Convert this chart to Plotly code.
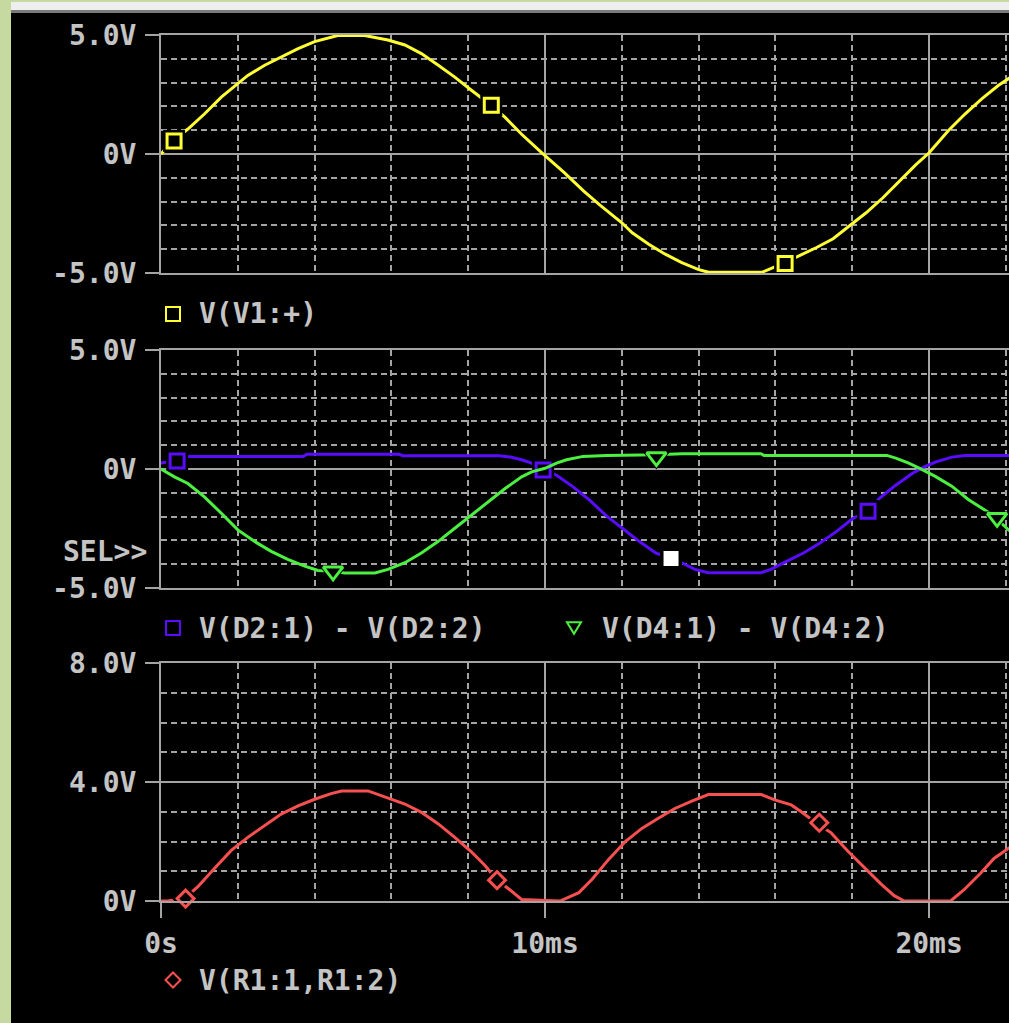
import plotly.graph_objects as go

# ---------------- data ----------------
# Plot 1 : V(V1:+)
t_v1 = [0, 0.32, 0.7, 1.13, 1.57, 2.0, 2.26, 2.7, 3.13, 3.57, 4.0, 4.6, 5.3, 5.91, 6.35,
        6.78, 7.22, 7.65, 8.09, 8.61, 8.96, 9.39, 9.91, 10.5, 11.0, 11.43, 12.0, 12.27, 12.7, 13.13,
        13.56, 14.0, 14.26, 15.65, 16.24, 16.63, 17.07, 17.5, 17.93, 18.36, 18.79, 19.22, 19.65, 20.0,
        20.51, 20.94, 21.37, 21.8, 22.1]
v_v1 = [0, 0.58, 1.05, 1.68, 2.39, 2.95, 3.3, 3.73, 4.08, 4.43, 4.72, 4.98, 4.98, 4.79, 4.58,
        4.22, 3.73, 3.23, 2.67, 2.03, 1.54, 0.83, 0.06, -0.78, -1.55, -2.15, -2.89, -3.31, -3.79, -4.21,
        -4.56, -4.86, -4.97, -4.97, -4.56, -4.28, -3.93, -3.56, -3.03, -2.47, -1.85, -1.15, -0.46, 0.05,
        1.0, 1.69, 2.32, 2.88, 3.2]
mt_v1 = [0.34, 8.6, 16.25]
mv_v1 = [0.55, 2.05, -4.6]

# Plot 2 : V(D2:1) - V(D2:2)
t_d2 = [0, 0.42, 0.62, 3.7, 3.8, 6.2, 6.3, 8.8, 9.1, 9.39, 9.65, 10.0, 10.3, 10.73, 11.16,
        11.59, 12.02, 12.45, 12.88, 13.28, 13.56, 13.9, 14.25, 15.62, 15.88, 16.3, 16.73, 17.16, 17.59,
        18.02, 18.41, 18.7, 19.13, 19.56, 19.86, 20.16, 20.59, 20.94, 22.1]
v_d2 = [0.25, 0.36, 0.53, 0.53, 0.62, 0.62, 0.56, 0.56, 0.5, 0.39, 0.25, -0.03, -0.26, -0.75, -1.31,
        -1.96, -2.51, -3.04, -3.53, -3.76, -3.94, -4.22, -4.36, -4.36, -4.22, -3.87, -3.53, -3.11, -2.62,
        -2.07, -1.77, -1.24, -0.68, -0.19, 0.08, 0.29, 0.5, 0.57, 0.57]
mt_d2 = [0.42, 9.95, 18.41]
mv_d2 = [0.34, -0.04, -1.77]
sel_t = [13.28]
sel_v = [-3.76]

# Plot 2 : V(D4:1) - V(D4:2)
t_d4 = [0, 0.35, 0.7, 1.13, 1.57, 2.0, 2.43, 2.87, 3.3, 3.74, 4.09, 4.48, 4.78, 5.57, 5.91,
        6.35, 6.78, 7.22, 7.65, 8.09, 8.52, 8.96, 9.39, 9.65, 10.0, 10.3, 10.56, 10.99, 11.6, 12.45,
        12.9, 13.56, 15.62, 15.7, 18.9, 19.13, 19.47, 19.82, 20.16, 20.59, 21.02, 21.62, 22.1]
v_d4 = [0, -0.33, -0.61, -1.17, -1.86, -2.56, -3.04, -3.46, -3.8, -4.08, -4.26, -4.3, -4.37, -4.37, -4.22,
        -3.94, -3.53, -3.04, -2.49, -1.93, -1.38, -0.82, -0.33, -0.12, 0.03, 0.25, 0.39, 0.53, 0.57, 0.57,
        0.6, 0.64, 0.64, 0.57, 0.57, 0.46, 0.25, -0.03, -0.31, -0.72, -1.28, -1.9, -2.6]
mt_d4 = [4.48, 12.9, 21.77]
mv_d4 = [-4.3, 0.5, -2.05]

# Plot 3 : V(R1:1,R1:2)
t_r = [0, 0.17, 0.62, 0.96, 1.39, 1.83, 2.26, 2.7, 3.13, 3.57, 4.0, 4.43, 4.7, 5.39, 5.91,
       6.35, 6.78, 7.22, 7.65, 8.09, 8.43, 8.74, 9.04, 9.39, 10.39, 10.62, 10.88, 11.22, 11.65, 12.09,
       12.52, 12.95, 13.38, 13.82, 14.25, 15.63, 15.98, 16.41, 16.67, 17.06, 17.45, 17.88, 18.31, 18.75,
       19.09, 19.35, 20.56, 20.91, 21.34, 21.69, 22.1]
v_r = [0, 0, 0.09, 0.48, 1.09, 1.7, 2.14, 2.53, 2.92, 3.2, 3.42, 3.61, 3.7, 3.7, 3.46,
       3.26, 2.98, 2.59, 2.14, 1.64, 1.2, 0.72, 0.42, 0.05, 0, 0.13, 0.28, 0.72, 1.39, 2.0,
       2.44, 2.78, 3.11, 3.36, 3.58, 3.58, 3.4, 3.23, 3.0, 2.62, 2.29, 1.68, 1.12, 0.57,
       0.18, 0, 0, 0.38, 0.93, 1.43, 1.8]
mt_r = [0.64, 8.75, 17.14]
mv_r = [0.08, 0.7, 2.63]

# axis ticks
x_major = [0, 10, 20]
x_major_text = ["0s", "10ms", "20ms"]
x_minor = [2, 4, 6, 8, 12, 14, 16, 18, 22]
y12_major = [-5, 0, 5]
y12_major_text = ["-5.0V", "0V", "5.0V"]
y12_minor = [-4, -3, -2, -1, 1, 2, 3, 4]
y3_major = [0, 4, 8]
y3_major_text = ["0V", "4.0V", "8.0V"]
y3_minor = [1, 2, 3, 5, 6, 7]

legend1 = "V(V1:+)"
legend2a = "V(D2:1) - V(D2:2)"
legend2b = "V(D4:1) - V(D4:2)"
legend3 = "V(R1:1,R1:2)"
sel_label = "SEL>>"

# ---------------- styling ----------------
W, H = 1009, 1023
T_MAX = 22.08
YELLOW = "#ffff33"
PURPLE = "#5a0cff"
GREEN = "#4cf040"
RED = "#f85050"
GRID = "#a4a4a4"
TEXT = "#c4c4c4"
FONT = "DejaVu Sans Mono"
FS = 28


def fx(x):
    return x / W


def fy(y):
    return 1 - y / H


fig = go.Figure()


def add_series(t, v, color, ax, mt, mv, symbol, msize, halo):
    xa = "x" if ax == 1 else f"x{ax}"
    ya = "y" if ax == 1 else f"y{ax}"
    fig.add_trace(go.Scatter(x=t, y=v, mode="lines", line=dict(color=color, width=3),
                             xaxis=xa, yaxis=ya, showlegend=False, hoverinfo="skip"))
    fig.add_trace(go.Scatter(x=mt, y=mv, mode="markers",
                             marker=dict(symbol=symbol, size=msize + halo, color="black",
                                         line=dict(width=0)),
                             xaxis=xa, yaxis=ya, showlegend=False, hoverinfo="skip", cliponaxis=False))
    fig.add_trace(go.Scatter(x=mt, y=mv, mode="markers",
                             marker=dict(symbol=symbol, size=msize, color="black",
                                         line=dict(color=color, width=3)),
                             xaxis=xa, yaxis=ya, showlegend=False, hoverinfo="skip", cliponaxis=False))


add_series(t_v1, v_v1, YELLOW, 1, mt_v1, mv_v1, "square", 14, 8)
add_series(t_d2, v_d2, PURPLE, 2, mt_d2, mv_d2, "square", 14, 8)
add_series(t_d4, v_d4, GREEN, 2, mt_d4, mv_d4, "triangle-down", 17, 8)
fig.add_trace(go.Scatter(x=sel_t, y=sel_v, mode="markers",
                         marker=dict(symbol="square", size=22, color="black", line=dict(width=0)),
                         xaxis="x2", yaxis="y2", showlegend=False, hoverinfo="skip"))
fig.add_trace(go.Scatter(x=sel_t, y=sel_v, mode="markers",
                         marker=dict(symbol="square", size=15, color="white", line=dict(width=0)),
                         xaxis="x2", yaxis="y2", showlegend=False, hoverinfo="skip"))
add_series(t_r, v_r, RED, 3, mt_r, mv_r, "diamond", 13, 8)

tickfont = dict(family=FONT, size=FS, color=TEXT, weight="bold")


def xaxis_cfg(show_labels):
    return dict(
        domain=[fx(161), 1.0], range=[0, T_MAX], fixedrange=True, automargin=False,
        tickmode="array", tickvals=x_major, ticktext=x_major_text,
        showticklabels=show_labels, ticks="outside" if show_labels else "",
        ticklen=15, tickwidth=2, tickcolor=GRID, tickfont=tickfont, ticklabelstandoff=1,
        showgrid=True, gridcolor=GRID, gridwidth=2, zeroline=False,
        showline=True, linecolor=GRID, linewidth=2, mirror=True,
        minor=dict(tickmode="array", tickvals=x_minor, showgrid=True, gridcolor=GRID,
                   gridwidth=2, griddash="6px,4px", ticks=""),
    )


def yaxis_cfg(top, bottom, rng, major, major_text, minor, anchor):
    return dict(
        domain=[fy(bottom), fy(top)], range=rng, fixedrange=True, anchor=anchor, automargin=False,
        tickmode="array", tickvals=major, ticktext=major_text,
        ticks="outside", ticklen=14, tickwidth=2, tickcolor=GRID, tickfont=tickfont,
        ticklabelstandoff=3,
        showgrid=True, gridcolor=GRID, gridwidth=2, zeroline=False,
        showline=True, linecolor=GRID, linewidth=2,
        minor=dict(tickmode="array", tickvals=minor, showgrid=True, gridcolor=GRID,
                   gridwidth=2, griddash="6px,4px", ticks=""),
    )


x1 = xaxis_cfg(False); x1["anchor"] = "y"
x2 = xaxis_cfg(False); x2["anchor"] = "y2"
x3 = xaxis_cfg(True); x3["anchor"] = "y3"

shapes = [
    # left light-green window strip
    dict(type="rect", xref="paper", yref="paper", x0=0, x1=fx(11), y0=0, y1=1,
         fillcolor="#c6d9a0", line=dict(width=0), layer="above"),
    # top strip
    dict(type="rect", xref="paper", yref="paper", x0=0, x1=1, y0=fy(2), y1=1,
         fillcolor="#c6d9a0", line=dict(width=0), layer="above"),
    dict(type="rect", xref="paper", yref="paper", x0=fx(11), x1=1, y0=fy(10), y1=fy(2),
         fillcolor="#eeeeee", line=dict(width=0), layer="above"),
    dict(type="rect", xref="paper", yref="paper", x0=fx(11), x1=1, y0=fy(13), y1=fy(10),
         fillcolor="#7a7a7a", line=dict(width=0), layer="above"),
]


def sq(cx, cy, s, color):
    return dict(type="rect", xref="paper", yref="paper", x0=fx(cx - s / 2), x1=fx(cx + s / 2),
                y0=fy(cy + s / 2), y1=fy(cy - s / 2), line=dict(color=color, width=2))


def tri(cx, cy, s, color):
    p = f"M {fx(cx - s / 2)} {fy(cy - s / 2.4)} L {fx(cx + s / 2)} {fy(cy - s / 2.4)} L {fx(cx)} {fy(cy + s / 2.4)} Z"
    return dict(type="path", xref="paper", yref="paper", path=p, line=dict(color=color, width=2))


def dia(cx, cy, s, color):
    h = s / 2
    p = f"M {fx(cx)} {fy(cy - h)} L {fx(cx + h)} {fy(cy)} L {fx(cx)} {fy(cy + h)} L {fx(cx - h)} {fy(cy)} Z"
    return dict(type="path", xref="paper", yref="paper", path=p, line=dict(color=color, width=2))


shapes += [sq(173, 314, 14, YELLOW), sq(173, 628, 14, PURPLE), tri(574, 628, 14, GREEN),
           dia(173, 980, 15, RED)]

lab = dict(family=FONT, size=FS, color=TEXT, weight="bold")
annotations = [
    dict(text=legend1, x=fx(197), y=fy(314), xref="paper", yref="paper", xanchor="left",
         yanchor="middle", showarrow=False, font=lab),
    dict(text=legend2a, x=fx(197), y=fy(628), xref="paper", yref="paper", xanchor="left",
         yanchor="middle", showarrow=False, font=lab),
    dict(text=legend2b, x=fx(600), y=fy(628), xref="paper", yref="paper", xanchor="left",
         yanchor="middle", showarrow=False, font=lab),
    dict(text=legend3, x=fx(197), y=fy(980), xref="paper", yref="paper", xanchor="left",
         yanchor="middle", showarrow=False, font=lab),
    dict(text=sel_label, x=fx(149), y=fy(551), xref="paper", yref="paper", xanchor="right",
         yanchor="middle", showarrow=False, font=lab),
]

fig.update_layout(
    width=W, height=H, autosize=False,
    margin=dict(l=0, r=0, t=0, b=0, pad=0, autoexpand=False),
    paper_bgcolor="black", plot_bgcolor="black",
    showlegend=False,
    xaxis=x1, xaxis2=x2, xaxis3=x3,
    yaxis=yaxis_cfg(35, 273, [-5, 5], y12_major, y12_major_text, y12_minor, "x"),
    yaxis2=yaxis_cfg(350, 588, [-5, 5], y12_major, y12_major_text, y12_minor, "x2"),
    yaxis3=yaxis_cfg(663, 901, [0, 8], y3_major, y3_major_text, y3_minor, "x3"),
    shapes=shapes, annotations=annotations,
)

fig.write_html(
    "out.html",
    config={"displayModeBar": False},
    post_script="document.body.style.margin='0';document.body.style.overflow='hidden';"
                "document.documentElement.style.overflow='hidden';",
)
